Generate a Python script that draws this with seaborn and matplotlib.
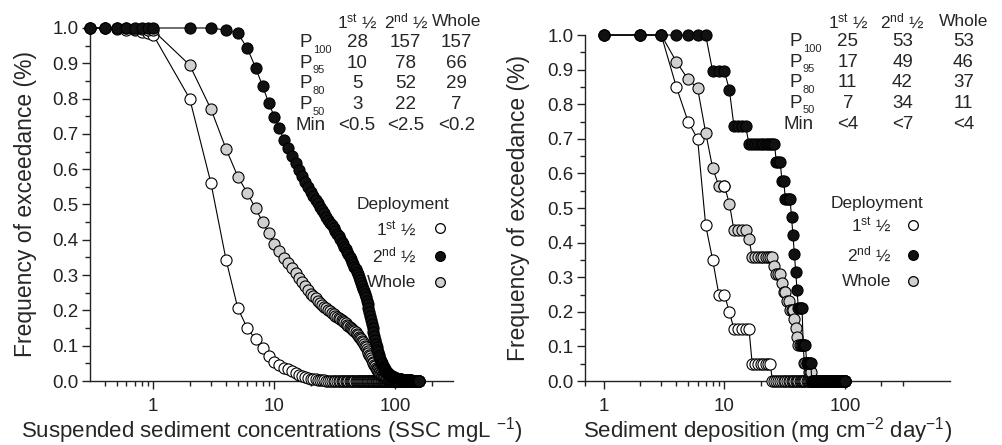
import matplotlib
matplotlib.use("Agg")
import matplotlib.pyplot as plt
from matplotlib.ticker import FixedLocator, NullFormatter, FormatStrFormatter
import seaborn as sns

# ---- data: left panel, suspended sediment (SSC, mg/L) ----
ssc_x = [0.3, 0.4, 0.5, 0.6, 0.7, 0.8, 0.9] + list(range(1, 158))

ssc_first = ([1.0, 1.0, 0.998, 0.995, 0.993, 0.99, 0.987, 0.98,
              0.80, 0.56, 0.343, 0.206, 0.149, 0.118, 0.094, 0.072, 0.055,
              0.044, 0.038, 0.033, 0.027, 0.022, 0.018, 0.014, 0.011, 0.009, 0.007,
              0.006, 0.005, 0.004, 0.003, 0.002, 0.002, 0.001, 0.0]
             + [0.0] * 129)

ssc_second = ([1.0] * 8 +
              [1.0, 1.0, 0.994, 0.985, 0.942, 0.888, 0.836, 0.788, 0.749,
               0.716, 0.684, 0.659, 0.637, 0.617, 0.598, 0.581, 0.565, 0.55, 0.536,
               0.524, 0.513, 0.503, 0.493, 0.484, 0.475, 0.466, 0.457, 0.449, 0.441,
               0.433, 0.425, 0.417, 0.41, 0.402, 0.395, 0.388, 0.38, 0.373, 0.366,
               0.359, 0.352, 0.345, 0.338, 0.331, 0.324, 0.317, 0.31, 0.302, 0.294,
               0.286, 0.278, 0.27, 0.262, 0.254, 0.246, 0.237, 0.228, 0.218, 0.207,
               0.196, 0.185, 0.173, 0.161, 0.149, 0.138, 0.127, 0.116, 0.106, 0.097,
               0.089, 0.081, 0.074, 0.067, 0.061, 0.056, 0.051, 0.047, 0.043, 0.039,
               0.036, 0.033, 0.03, 0.028, 0.026, 0.024, 0.022, 0.02, 0.018, 0.017,
               0.016, 0.015, 0.014, 0.013, 0.012, 0.011, 0.011, 0.01, 0.009, 0.009,
               0.008, 0.008, 0.007, 0.007, 0.007, 0.006, 0.006, 0.006, 0.005, 0.005,
               0.005, 0.005, 0.004, 0.004, 0.004, 0.004, 0.004, 0.003, 0.003, 0.003,
               0.003, 0.003, 0.003, 0.003, 0.002, 0.002, 0.002, 0.002, 0.002, 0.002,
               0.002, 0.002, 0.002, 0.002, 0.002, 0.001, 0.001, 0.001, 0.001, 0.001,
               0.001, 0.001, 0.001, 0.001, 0.001, 0.001, 0.001, 0.001, 0.001, 0.001,
               0.001, 0.001, 0.001, 0.001, 0.001, 0.001, 0.0])

ssc_whole = ([1.0, 1.0, 1.0, 0.999, 0.998, 0.997, 0.995, 0.993,
              0.895, 0.77, 0.657, 0.579, 0.532, 0.489, 0.451, 0.418, 0.388,
              0.367, 0.349, 0.335, 0.32, 0.306, 0.293, 0.28, 0.27, 0.258, 0.247,
              0.24, 0.234, 0.228, 0.222, 0.216, 0.211, 0.206, 0.201, 0.197, 0.193,
              0.189, 0.185, 0.181, 0.178, 0.175, 0.172, 0.169, 0.166, 0.163, 0.16,
              0.157, 0.154, 0.151, 0.148, 0.145, 0.142, 0.138, 0.134, 0.13, 0.126,
              0.122, 0.118, 0.114, 0.11, 0.105, 0.1, 0.095, 0.09, 0.085, 0.08,
              0.075, 0.07, 0.065, 0.06, 0.055, 0.05, 0.046, 0.042, 0.038, 0.034,
              0.031, 0.028, 0.025, 0.023, 0.021, 0.019, 0.017, 0.015, 0.014, 0.013,
              0.012, 0.011, 0.01, 0.009, 0.009, 0.008, 0.008, 0.007, 0.007, 0.006,
              0.006, 0.006, 0.005, 0.005, 0.005, 0.005, 0.004, 0.004, 0.004, 0.004,
              0.004, 0.004, 0.004, 0.003, 0.003, 0.003, 0.003, 0.003, 0.003, 0.003,
              0.003, 0.003, 0.002, 0.002, 0.002, 0.002, 0.002, 0.002, 0.002, 0.002,
              0.002, 0.002, 0.002, 0.002, 0.002, 0.002, 0.002, 0.002, 0.001, 0.001,
              0.001, 0.001, 0.001, 0.001, 0.001, 0.001, 0.001, 0.001, 0.001, 0.001,
              0.001, 0.001, 0.001, 0.001, 0.001, 0.001, 0.001, 0.001, 0.001, 0.001,
              0.001, 0.001, 0.001, 0.001, 0.001, 0.001, 0.0])

# ---- data: right panel, sediment deposition (mg cm-2 day-1) ----
dep_x = list(range(1, 101))

dep_first = ([1.0, 1.0, 1.0, 0.85, 0.75, 0.70, 0.45, 0.35, 0.25, 0.25, 0.20]
             + [0.15] * 5 + [0.05] * 8 + [0.0] * 76)

dep_second = ([1.0] * 7 + [0.895] * 3 + [0.842] + [0.737] * 4 + [0.684] * 11
              + [0.632] * 3 + [0.579] * 2 + [0.526] * 4
              + [0.474, 0.421, 0.368, 0.316, 0.263]
              + [0.211] * 4 + [0.105] * 3 + [0.053] * 5 + [0.0] * 48)

dep_whole = ([1.0] * 3 + [0.923, 0.872, 0.846, 0.718, 0.615, 0.564, 0.564, 0.513]
             + [0.436] * 4 + [0.41] + [0.359] * 9 + [0.333] + [0.308] * 3
             + [0.282] + [0.256] * 2 + [0.231] * 2 + [0.205] * 3
             + [0.179, 0.154, 0.128] + [0.103] * 5 + [0.051] * 4 + [0.026] * 3
             + [0.0] * 48)
# one "Whole" point that is drawn with an open face in the original
dep_whole_open_x = [10]
dep_whole_open_y = [0.564]

series_labels = ["1$^{\\rm st}$ \u00bd", "2$^{\\rm nd}$ \u00bd", "Whole"]
face_colors = ["white", "#111111", "#d0d0d0"]

row_labels = [("P", "100"), ("P", "95"), ("P", "80"), ("P", "50"), ("Min", "")]
ssc_table = [["28", "157", "157"], ["10", "78", "66"], ["5", "52", "29"],
             ["3", "22", "7"], ["<0.5", "<2.5", "<0.2"]]
dep_table = [["25", "53", "53"], ["17", "49", "46"], ["11", "42", "37"],
             ["7", "34", "11"], ["<4", "<7", "<4"]]

sns.set_theme(style="ticks")
plt.rcParams["font.family"] = ["Liberation Sans", "DejaVu Sans"]
plt.rcParams["mathtext.fontset"] = "custom"
plt.rcParams["mathtext.rm"] = "Liberation Sans"
plt.rcParams["mathtext.it"] = "Liberation Sans:italic"
plt.rcParams["mathtext.bf"] = "Liberation Sans:bold"

fig = plt.figure(figsize=(10.02, 4.45), dpi=100)
ax1 = fig.add_axes([0.0898, 0.1438, 0.3623, 0.7933])
ax2 = fig.add_axes([0.5838, 0.1438, 0.3643, 0.7775])


def draw_panel(ax, x, series, xlim, minor):
    for z, (y, fc) in enumerate(series):
        sns.lineplot(x=x, y=y, ax=ax, color="black", lw=0.8, marker="o",
                     markersize=8, markerfacecolor=fc, markeredgecolor="black",
                     markeredgewidth=0.8, estimator=None, sort=False,
                     clip_on=False, zorder=3 + z)
    ax.set_xscale("log")
    ax.set_xlim(*xlim)
    ax.set_ylim(0, 1.0)
    ax.xaxis.set_major_locator(FixedLocator([1, 10, 100]))
    ax.xaxis.set_major_formatter(FormatStrFormatter("%g"))
    ax.xaxis.set_minor_locator(FixedLocator(minor))
    ax.xaxis.set_minor_formatter(NullFormatter())
    ax.yaxis.set_major_locator(FixedLocator([i / 10 for i in range(11)]))
    ax.yaxis.set_major_formatter(FormatStrFormatter("%.1f"))
    ax.yaxis.set_minor_locator(FixedLocator([i / 20 for i in range(1, 20, 2)]))
    ax.tick_params(which="major", length=5.5, width=1, labelsize=13.5,
                   colors="#222222")
    ax.tick_params(which="minor", length=3.5, width=1, colors="#222222")
    ax.tick_params(axis="y", which="major", pad=2.5)
    ax.tick_params(axis="x", which="major", pad=7)
    for s in ["left", "bottom"]:
        ax.spines[s].set_linewidth(1)
        ax.spines[s].set_color("#222222")
    sns.despine(ax=ax)
    ax.set_ylabel("Frequency of exceedance (%)", fontsize=16.5, va="center")


def draw_table(ax, rows, xcols, xrow, xp, ytop, dy):
    tr = ax.transAxes
    for xc, h in zip(xcols, series_labels):
        ax.text(xc, ytop, h, transform=tr, ha="center", va="center",
                fontsize=12.5, clip_on=False)
    for i, ((lab, sub), vals) in enumerate(zip(row_labels, rows)):
        yy = ytop - dy * (i + 1)
        if sub:
            ax.text(xp, yy, lab, transform=tr, ha="right", va="center",
                    fontsize=13.5, clip_on=False)
            ax.annotate(sub, xy=(xp, yy), xycoords="axes fraction",
                        xytext=(0.5, -5), textcoords="offset points",
                        ha="left", va="center", fontsize=8, annotation_clip=False)
        else:
            ax.text(xrow, yy, lab, transform=tr, ha="right", va="center",
                    fontsize=13.5, clip_on=False)
        for xc, v in zip(xcols, vals):
            ax.text(xc, yy, v, transform=tr, ha="center", va="center",
                    fontsize=13.5, clip_on=False)


def draw_legend(ax, xt, xm, ytitle, ys, xtitle):
    tr = ax.transAxes
    ax.text(xtitle, ytitle, "Deployment", transform=tr, ha="center",
            va="center", fontsize=12.5)
    for lab, fc, yy in zip(series_labels, face_colors, ys):
        ax.text(xt, yy, lab, transform=tr, ha="right", va="center", fontsize=12.5)
        ax.plot([xm], [yy], transform=tr, marker="o", ms=7, mfc=fc, mec="black",
                mew=0.9, ls="none", clip_on=False)


draw_panel(ax1, ssc_x,
           [(ssc_first, face_colors[0]), (ssc_whole, face_colors[2]),
            (ssc_second, face_colors[1])],
           (0.3, 300),
           [0.4, 0.5, 0.6, 0.7, 0.8, 0.9, 2, 3, 4, 5, 6, 7, 8, 9,
            20, 30, 40, 50, 60, 70, 80, 90, 200])
ax1.set_xlabel("Suspended sediment concentrations (SSC mgL $^{-1}$)",
               fontsize=16, va="center")
ax1.xaxis.set_label_coords(0.5, -0.141)
ax1.yaxis.set_label_coords(-0.177, 0.5)

draw_panel(ax2, dep_x,
           [(dep_first, face_colors[0]), (dep_whole, face_colors[2]),
            (dep_second, face_colors[1])],
           (0.7, 740),
           [0.7, 2, 3, 4, 5, 6, 7, 8, 9, 20, 30, 40, 50, 60, 70, 80, 90, 200, 300])
sns.scatterplot(x=dep_whole_open_x, y=dep_whole_open_y, ax=ax2, s=64,
                color="white", edgecolor="black", linewidth=0.8, zorder=4.5)
ax2.set_xlabel("Sediment deposition (mg cm$^{-2}$ day$^{-1}$)",
               fontsize=16, va="center")
ax2.xaxis.set_label_coords(0.5, -0.144)
ax2.yaxis.set_label_coords(-0.182, 0.5)

# tables of percentiles (axes-fraction coordinates)
draw_table(ax1, ssc_table, [0.736, 0.87, 1.01], 0.648, 0.612, 1.017, 0.0585)
draw_table(ax2, dep_table, [0.72, 0.87, 1.037], 0.627, 0.595, 1.04, 0.0595)

# legends
draw_legend(ax1, 0.90, 0.964, 0.499, [0.433, 0.354, 0.280], 0.862)
draw_legend(ax2, 0.84, 0.90, 0.514, [0.451, 0.364, 0.289], 0.80)

fig.savefig("out.png", dpi=100)
